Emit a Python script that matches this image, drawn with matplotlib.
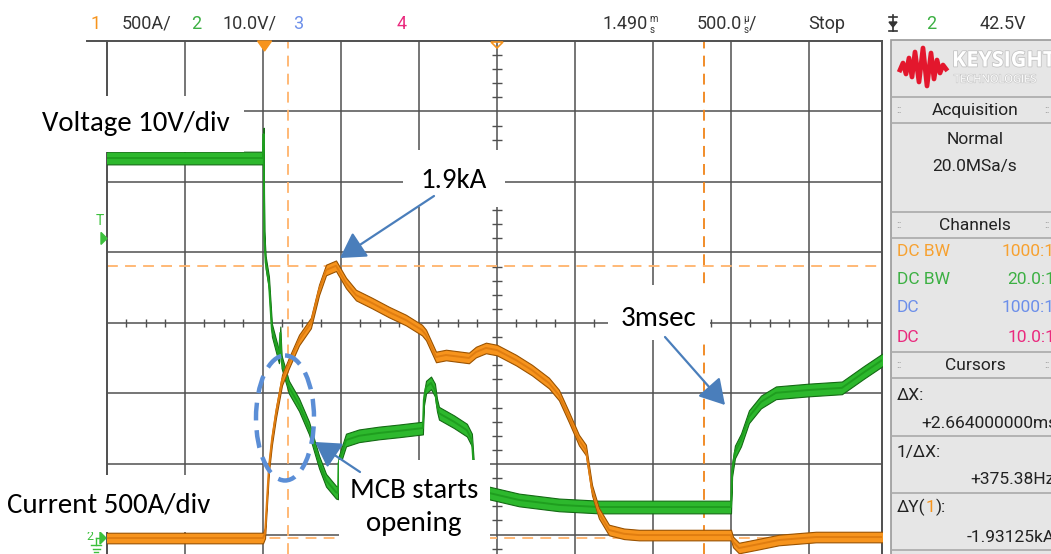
import matplotlib
matplotlib.use("Agg")
import numpy as np
import matplotlib.pyplot as plt
from matplotlib.patches import Rectangle, Ellipse, FancyArrowPatch, Polygon
from matplotlib.lines import Line2D
from matplotlib.transforms import Affine2D
import matplotlib.patheffects as pe

# channel 1: breaker current, time in ms after trigger, amps
cur_t = [-1.017, -0.010, 0.003, 0.028, 0.047, 0.073, 0.112, 0.156, 0.221, 0.297,
         0.349, 0.394, 0.458, 0.522, 0.586, 0.688, 0.797, 0.906, 1.009, 1.035,
         1.099, 1.163, 1.310, 1.355, 1.419, 1.490, 1.612, 1.714, 1.823, 1.887,
         1.951, 2.015, 2.060, 2.099, 2.143, 2.208, 2.304, 2.400, 2.990, 3.003,
         3.041, 3.169, 3.297, 3.534, 3.990]
cur_a = [0, 0, 35, 504, 695, 887, 1121, 1241, 1404, 1525,
         1759, 1901, 1931, 1809, 1723, 1667, 1603, 1546, 1475, 1440,
         1284, 1298, 1277, 1319, 1348, 1333, 1262, 1191, 1099, 1014,
         858, 695, 624, 340, 177, 57, 30, 21, 21, -28,
         -71, -43, -14, 7, 7]

# channel 2: voltage across the breaker, volts
volt_t = [-1.017, -0.010, -0.006, -0.002, 0.007, 0.028, 0.047, 0.092, 0.101, 0.109,
          0.156, 0.221, 0.285, 0.349, 0.394, 0.458, 0.471, 0.474, 0.522, 0.605,
          0.733, 0.862, 1.015, 1.021, 1.035, 1.067, 1.092, 1.105, 1.118, 1.214,
          1.297, 1.329, 1.342, 1.438, 1.631, 1.887, 2.143, 2.990, 2.997, 3.015,
          3.054, 3.105, 3.182, 3.278, 3.490, 3.701, 3.842, 3.990]
volt_v = [53.9, 53.9, 57.3, 42.7, 39.1, 36.2, 29.5, 25.7, 29.1, 25.0,
          21.4, 18.9, 15.6, 10.8, 8.2, 6.5, 6.4, 10.6, 13.9, 14.5,
          14.9, 15.2, 15.6, 19.6, 21.4, 22.0, 21.0, 18.9, 17.7, 16.5,
          15.3, 13.9, 9.6, 6.4, 5.4, 4.7, 4.4, 4.4, 9.6, 12.2,
          13.9, 17.2, 19.3, 20.6, 21.0, 21.3, 23.5, 25.7]

cursor_t = [0.150, 0.150 + 2.664]       # ms
cursor_i = [1931.25, 0.0]               # A

AMP_PER_DIV = 500
VOLT_PER_DIV = 10
MS_PER_DIV = 0.5
DELAY_MS = 1.490
GROUND_DIV = -3.05

W, H = 1051, 554
DIV_X, DIV_Y = 78.0, 70.5
LEFT_PX, RIGHT_PX, TOP_PX, MID_Y_PX = 107, 882, 41, 323

ORANGE = "#F7941D"
ORANGE_DARK = "#9A5200"
GREEN = "#2DB82D"
GREEN_DARK = "#146A14"
GRID = "#505050"
ARROW = "#4A7EBB"
SCOPE_FONT = ["Liberation Sans Narrow", "Roboto", "DejaVu Sans"]
NOTE_FONT = ["Carlito", "Lato", "DejaVu Sans"]

fig = plt.figure(figsize=(W / 100, H / 100), dpi=100)
fig.patch.set_facecolor("white")
px = Affine2D().scale(1 / W, -1 / H).translate(0, 1) + fig.transFigure
renderer = fig.canvas.get_renderer()


def to_x(t):
    return (np.asarray(t, dtype=float) - DELAY_MS) / MS_PER_DIV


def xdiv_to_px(d):
    return LEFT_PX + (d + 5) * DIV_X


def stext(x, y, s, color="#333333", size=12, ha="left", **kw):
    return fig.text(x, y, s, color=color, fontsize=size, ha=ha, va="center",
                    family=SCOPE_FONT, transform=px, **kw)


def right_edge(t):
    return t.get_window_extent(renderer).x1


ax = fig.add_axes([LEFT_PX / W, 0, (RIGHT_PX - LEFT_PX) / W, (H - TOP_PX) / H])
ax.set_xlim(-5, -5 + (RIGHT_PX - LEFT_PX) / DIV_X)
ax.set_ylim((MID_Y_PX - H) / DIV_Y, 4)
ax.set_xticks([])
ax.set_yticks([])
for side in ["top", "left", "right"]:
    ax.spines[side].set_color(GRID)
    ax.spines[side].set_linewidth(1.4)
ax.spines["bottom"].set_visible(False)

# graticule
for k in range(-4, 5):
    ax.axvline(k, color=GRID, lw=1.1, zorder=1)
for k in range(-3, 4):
    ax.axhline(k, color=GRID, lw=1.1, zorder=1)
minor_x = [v for v in np.arange(-5, 5, 0.25) if abs(v - round(v)) > 1e-6]
minor_y = [v for v in np.arange(-3.2, 4, 0.2) if abs(v - round(v)) > 1e-6]
ax.vlines(minor_x, -0.05, 0.05, color=GRID, lw=1.0, zorder=1)
ax.hlines(minor_y, -0.06, 0.06, color=GRID, lw=1.0, zorder=1)

# cursors
ax.axvline(to_x(cursor_t[0]), color="#FFB36B", lw=1.3, ls=(0, (6, 4)), zorder=2)
ax.axvline(to_x(cursor_t[1]), color="#F08418", lw=1.3, ls=(0, (6, 4)), zorder=2)
for ci in cursor_i:
    ax.axhline(ci / AMP_PER_DIV + GROUND_DIV, color="#FFB36B", lw=1.3,
               ls=(0, (6, 4)), zorder=2)

# traces
vx = to_x(volt_t)
vy = np.asarray(volt_v) / VOLT_PER_DIV + GROUND_DIV
ax.fill_between(vx, vy - 0.09, vy + 0.09, facecolor=GREEN, edgecolor=GREEN_DARK,
                lw=0.8, zorder=3)
ax.plot(vx, vy, color="#1F9E1F", lw=1.4, zorder=3)

cx = to_x(cur_t)
cy = np.asarray(cur_a) / AMP_PER_DIV + GROUND_DIV
ax.fill_between(cx, cy - 0.075, cy + 0.075, facecolor=ORANGE, edgecolor=ORANGE_DARK,
                lw=0.8, zorder=4)
ax.plot(cx, cy, color="#E07D10", lw=1.4, zorder=4)

# top graticule edge runs a bit past the left border
fig.add_artist(Line2D([87, LEFT_PX], [TOP_PX, TOP_PX], color=GRID, lw=1.4, transform=px))

# trigger position and delay reference markers
trig_px = xdiv_to_px(to_x(0.0))
fig.add_artist(Polygon([(trig_px - 7, 41), (trig_px + 7, 41), (trig_px, 51)],
                       closed=True, facecolor=ORANGE, edgecolor=ORANGE, transform=px, zorder=5))
mid_px = xdiv_to_px(0)
fig.add_artist(Polygon([(mid_px - 6, 42), (mid_px + 6, 42), (mid_px, 48)],
                       closed=True, facecolor="none", edgecolor=ORANGE, lw=1.2,
                       transform=px, zorder=5))

# trigger level marker and channel 2 ground marker at the left
trig_lvl_px = MID_Y_PX - (42.5 / VOLT_PER_DIV + GROUND_DIV) * DIV_Y
stext(100, trig_lvl_px - 17, "T", color="#3CC03C", size=10, ha="center")
fig.add_artist(Polygon([(101, trig_lvl_px - 6), (107, trig_lvl_px), (101, trig_lvl_px + 6)],
                       closed=True, color="#3CC03C", transform=px))
gnd_px = MID_Y_PX - GROUND_DIV * DIV_Y
stext(90, gnd_px - 2, "2", color="#3CC03C", size=9, ha="center")
fig.add_artist(Polygon([(100, gnd_px - 6), (106, gnd_px), (100, gnd_px + 6)],
                       closed=True, color="#3CC03C", transform=px))
for y0, half in [(545, 5), (549, 3.5), (552, 2)]:
    fig.add_artist(Line2D([96 - half, 96 + half], [y0, y0], color="#3CC03C", lw=1, transform=px))
fig.add_artist(Line2D([96, 96], [538, 545], color="#3CC03C", lw=1, transform=px))
fig.add_artist(Line2D([96, 100], [538, 538], color="#3CC03C", lw=1, transform=px))

# status bar
status = [
    (96, "1", ORANGE, "center"), (122, "500A/", "#333333", "left"),
    (196, "2", "#3CB043", "center"), (222, "10.0V/", "#333333", "left"),
    (298, "3", "#6C8FEA", "center"), (402, "4", "#EA2A7E", "center"),
    (808, "Stop", "#333333", "left"), (931, "2", "#3CB043", "center"),
    (980, "42.5V", "#333333", "left"),
]
for x0, s, col, ha in status:
    stext(x0, 24, s, color=col, size=13, ha=ha)
for x0, num, unit_top, tail in [(603, "1.490", "m", ""), (697, "500.0", "µ", "/")]:
    t = stext(x0, 24, num, size=13)
    xe = right_edge(t) + 1
    stext(xe, 19, unit_top, size=7)
    u = stext(xe, 30, "s", size=7)
    if tail:
        stext(right_edge(u) + 1, 24, tail, size=13)
# falling edge trigger glyph
for xs, ys in [([889, 897], [17, 17]), ([893, 893], [15, 31]), ([889, 897], [31, 31])]:
    fig.add_artist(Line2D(xs, ys, color="#333333", lw=1.2, transform=px))
fig.add_artist(Polygon([(889, 22), (897, 22), (893, 27)], closed=True, color="#333333",
                       transform=px))

# side panel
fig.add_artist(Rectangle((891, 40), 170, 520, facecolor="#E6E6E6", edgecolor="#9A9A9A",
                         lw=1.2, transform=px, zorder=5))
logo = [(900, 70), (903, 63), (906, 74), (909, 58), (912, 77), (915, 52), (919, 82),
        (923, 48), (927, 86), (931, 53), (934, 79), (937, 60), (940, 73), (943, 65),
        (946, 69)]
fig.add_artist(Line2D([p[0] for p in logo], [p[1] for p in logo], color="#E3172D",
                      lw=3.4, solid_joinstyle="round", transform=px, zorder=6))
fig.text(952, 61, "KEYSIGHT", color="white", fontsize=15.5, fontweight="bold", ha="left",
         va="center", family=["Open Sans", "DejaVu Sans"], transform=px, zorder=6,
         path_effects=[pe.withStroke(linewidth=1.2, foreground="#C4C4C4")])
fig.text(954, 80, "TECHNOLOGIES", color="white", fontsize=8, ha="left", va="center",
         family=["Open Sans", "DejaVu Sans"], transform=px, zorder=6,
         path_effects=[pe.withStroke(linewidth=1.0, foreground="#CACACA")])

for y0 in [97, 123, 212, 238, 352, 378, 436, 493, 550]:
    fig.add_artist(Line2D([892, 1051], [y0, y0], color="#A9A9A9", lw=1.2, transform=px,
                          zorder=6))

PANEL_TXT = "#222222"
for y0, s in [(110, "Acquisition"), (225, "Channels"), (365, "Cursors")]:
    stext(975, y0, s, color=PANEL_TXT, size=12.5, ha="center", zorder=7)
    for gx in (899, 1047):
        stext(gx, y0, "::", color="#8A8A8A", size=8, ha="center", zorder=7)
stext(975, 139, "Normal", color=PANEL_TXT, size=12.5, ha="center", zorder=7)
stext(975, 167, "20.0MSa/s", color=PANEL_TXT, size=12.5, ha="center", zorder=7)

channels = [(252, "DC BW", "1000:1", "#F7A130"), (280, "DC BW", "20.0:1", "#3CB043"),
            (308, "DC", "1000:1", "#6C8FEA"), (337, "DC", "10.0:1", "#EA2A7E")]
for y0, coupling, probe, col in channels:
    stext(897, y0, coupling, color=col, size=12.5, zorder=7)
    stext(1055, y0, probe, color=col, size=12.5, ha="right", zorder=7)

readouts = [(396, "ΔX:", "left", 897), (423, "+2.664000000ms", "right", 1057),
            (453, "1/ΔX:", "left", 897), (480, "+375.38Hz", "right", 1055),
            (537, "-1.93125kA", "right", 1055)]
for y0, s, ha, x0 in readouts:
    stext(x0, y0, s, color=PANEL_TXT, size=12.5, ha=ha, zorder=7)
t1 = stext(897, 507, "ΔY(", color=PANEL_TXT, size=12.5, zorder=7)
t2 = stext(right_edge(t1), 507, "1", color=ORANGE, size=12.5, zorder=7)
stext(right_edge(t2), 507, "):", color=PANEL_TXT, size=12.5, zorder=7)

# callout boxes
for x0, y0, w, h in [(0, 96, 244, 56), (0, 475, 230, 57), (403, 150, 102, 57),
                     (608, 285, 102, 55), (339, 460, 151, 100)]:
    fig.add_artist(Rectangle((x0, y0), w, h, facecolor="white", edgecolor="none",
                             transform=px, zorder=8))

notes = [(42, 124, "Voltage 10V/div", "left"), (7, 505, "Current 500A/div", "left"),
         (454, 181, "1.9kA", "center"), (659, 318, "3msec", "center"),
         (414, 491, "MCB starts", "center"), (414, 524, "opening", "center")]
for x0, y0, s, ha in notes:
    fig.text(x0, y0, s, color="black", fontsize=20.8, ha=ha, va="center", family=NOTE_FONT,
             transform=px, zorder=9)

for (xa, ya), (xb, yb) in [((434, 196), (340, 258)), ((665, 337), (725, 405)),
                           ((360, 472), (315, 442))]:
    fig.add_artist(FancyArrowPatch((xa, ya), (xb, yb), arrowstyle="-|>,head_length=0.85,head_width=0.5",
                                   mutation_scale=18, color=ARROW, lw=1.6,
                                   shrinkA=0, shrinkB=0, transform=px, zorder=9))

fig.add_artist(Ellipse((285, 418), 58, 125, facecolor="none", edgecolor="#5B8ED6", lw=3.2,
                       ls=(0, (4, 2.2)), transform=px, zorder=9))

fig.savefig("out.png", dpi=100)
